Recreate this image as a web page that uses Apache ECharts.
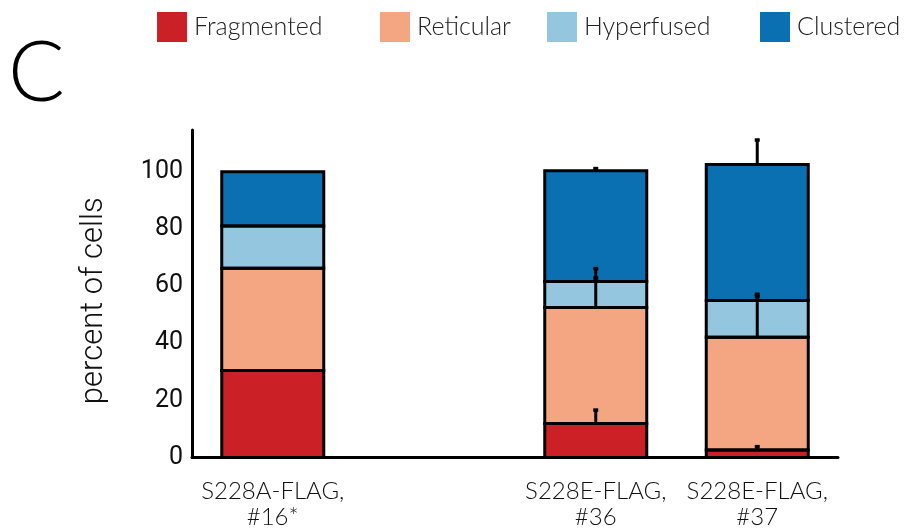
<!DOCTYPE html>
<html>
<head>
<meta charset="utf-8">
<script src="https://cdn.jsdelivr.net/npm/echarts@6/dist/echarts.min.js"></script>
<style>
  html, body { margin: 0; padding: 0; background: #fff; }
  #chart { width: 904px; height: 531px; }
</style>
</head>
<body>
<div id="chart"></div>
<script>
// Categories (the second slot is an intentional empty gap)
const categories = ['S228A-FLAG,\n#16*', '', 'S228E-FLAG,\n#36', 'S228E-FLAG,\n#37'];
const seriesNames = ['Fragmented', 'Reticular', 'Hyperfused', 'Clustered'];
const seriesColors = ['#cc2027', '#f4a683', '#94c6df', '#0b70b2'];

// Mean percent of cells per morphology class
const fragmented = [30.4, null, 11.9, 2.6];
const reticular  = [35.8, null, 40.6, 39.5];
const hyperfused = [14.8, null, 9.1, 12.8];
const clustered  = [19.0, null, 38.7, 47.6];

// Upward error (SEM) per segment
const fragmentedErr = [0, null, 4.7, 1.2];
const reticularErr  = [0, null, 10.3, 14.3];
const hyperfusedErr = [0, null, 4.5, 2.2];
const clusteredErr  = [0, null, 0.8, 8.6];

// Y axis ticks
const yTickMin = 0;
const yTickStep = 20;
const yTickMaxLabel = 100;

const BAR_WIDTH = 102;

const values = [fragmented, reticular, hyperfused, clustered];
const errors = [fragmentedErr, reticularErr, hyperfusedErr, clusteredErr];

// Segment outlines and error bars, both built from the stacked values
const outlineData = [];
const errorData = [];
categories.forEach((c, i) => {
  let cum = 0;
  values.forEach((arr, s) => {
    if (arr[i] == null) return;
    const lo = cum;
    cum += arr[i];
    outlineData.push([i, lo, cum]);
    const e = errors[s][i];
    if (e > 0) errorData.push([i, cum, cum + e]);
  });
});

const chart = echarts.init(document.getElementById('chart'), null, { renderer: 'canvas' });

const legendLeft = [157, 380, 547, 760];

const option = {
  animation: false,
  backgroundColor: '#fff',
  grid: { left: 192, right: 66, top: 130, bottom: 73.5 },
  legend: seriesNames.map((n, i) => ({
    data: [n],
    left: legendLeft[i],
    top: 12,
    padding: 0,
    icon: 'rect',
    itemWidth: 30,
    itemHeight: 30,
    itemStyle: { borderWidth: 0 },
    selectedMode: false,
    textStyle: { fontFamily: 'Lato', fontWeight: 300, fontSize: 25, color: '#222', padding: [0, 0, 0, 2] }
  })),
  graphic: [{
    type: 'text',
    left: 8,
    top: 32,
    style: { text: 'C', fontFamily: 'Lato', fontWeight: 300, fontSize: 84, fill: '#000' }
  }],
  xAxis: {
    type: 'category',
    data: categories,
    axisLine: { lineStyle: { color: '#000', width: 3 } },
    axisTick: { show: false },
    axisLabel: {
      interval: 0,
      margin: 21,
      fontFamily: 'Lato',
      fontWeight: 300,
      fontSize: 24,
      lineHeight: 26,
      color: '#111'
    }
  },
  yAxis: {
    type: 'value',
    min: yTickMin,
    max: 114.6,
    interval: yTickStep,
    splitLine: { show: false },
    axisLine: { show: true, lineStyle: { color: '#000', width: 3 } },
    axisTick: { show: false },
    axisLabel: {
      showMaxLabel: false,
      margin: 9,
      fontFamily: 'Roboto',
      fontSize: 25,
      color: '#111',
      padding: [0, 0, 9, 0],
      formatter: v => (v <= yTickMaxLabel ? String(v) : '')
    },
    name: 'percent of cells',
    nameLocation: 'middle',
    nameGap: 82,
    nameTextStyle: { fontFamily: 'Roboto', fontWeight: 300, fontSize: 31, color: '#111', padding: [0, 14, 0, 0] }
  },
  series: [
    ...seriesNames.map((n, s) => ({
      name: n,
      type: 'bar',
      stack: 'total',
      barWidth: BAR_WIDTH,
      data: values[s],
      z: 2,
      itemStyle: { color: seriesColors[s], borderWidth: 0 },
      emphasis: { disabled: true }
    })),
    {
      name: 'outline',
      type: 'custom',
      z: 4,
      silent: true,
      data: outlineData,
      encode: { x: 0, y: [1, 2] },
      renderItem: (params, api) => {
        const x = api.value(0);
        const p0 = api.coord([x, api.value(1)]);
        const p1 = api.coord([x, api.value(2)]);
        return {
          type: 'rect',
          shape: { x: p0[0] - BAR_WIDTH / 2, y: p1[1], width: BAR_WIDTH, height: p0[1] - p1[1] },
          style: { fill: null, stroke: '#000', lineWidth: 3 }
        };
      }
    },
    {
      name: 'error',
      type: 'custom',
      z: 5,
      silent: true,
      data: errorData,
      encode: { x: 0, y: [1, 2] },
      renderItem: (params, api) => {
        const x = api.value(0);
        const p0 = api.coord([x, api.value(1)]);
        const p1 = api.coord([x, api.value(2)]);
        return {
          type: 'group',
          children: [
            { type: 'line', shape: { x1: p0[0], y1: p0[1], x2: p1[0], y2: p1[1] },
              style: { stroke: '#000', lineWidth: 3 } },
            { type: 'line', shape: { x1: p1[0] - 2.5, y1: p1[1], x2: p1[0] + 2.5, y2: p1[1] },
              style: { stroke: '#000', lineWidth: 3.5 } }
          ]
        };
      }
    }
  ]
};

chart.setOption(option);
</script>
</body>
</html>
